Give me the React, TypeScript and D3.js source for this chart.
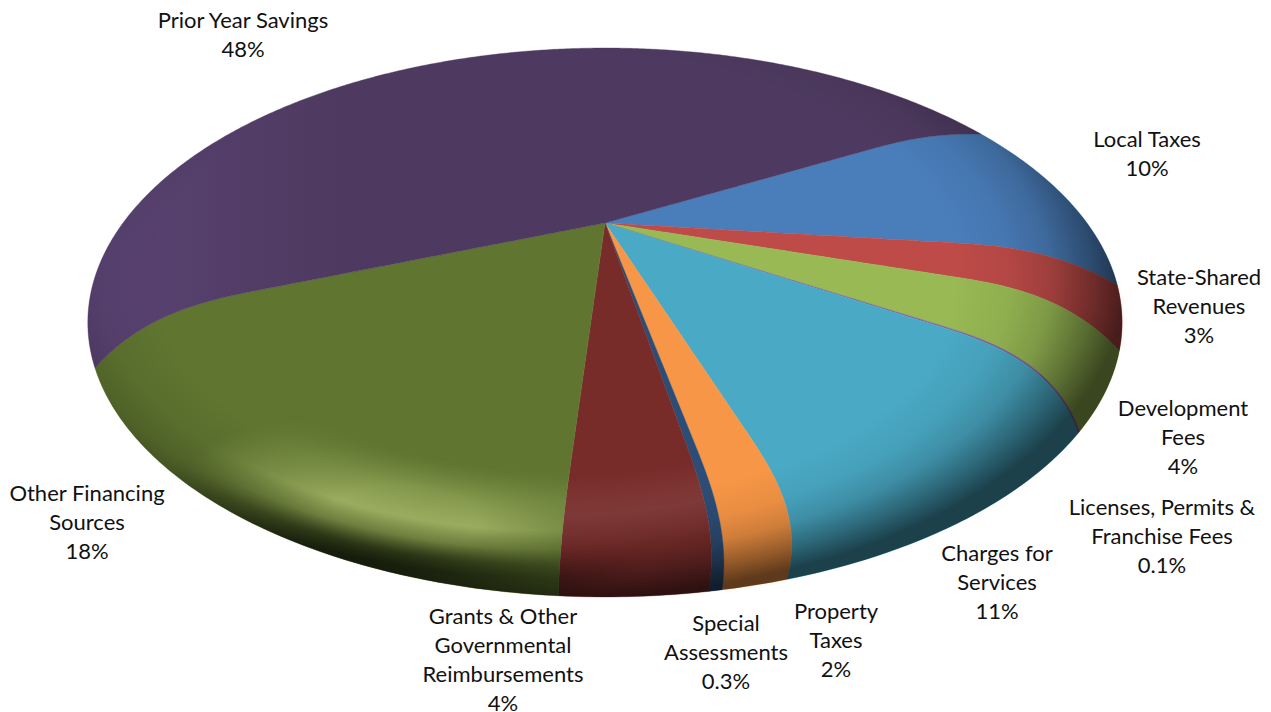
import React from "react";
import * as d3 from "d3";

// Revenue sources, clockwise from Local Taxes
const sourceLabels: string[][] = [
  ["Local Taxes"],
  ["State-Shared", "Revenues"],
  ["Development", "Fees"],
  ["Licenses, Permits &", "Franchise Fees"],
  ["Charges for", "Services"],
  ["Property", "Taxes"],
  ["Special", "Assessments"],
  ["Grants & Other", "Governmental", "Reimbursements"],
  ["Other Financing", "Sources"],
  ["Prior Year Savings"],
];
const sharePercent = [10, 3, 4, 0.1, 11, 2, 0.3, 4, 18, 48];
const sliceColors = [
  "#4a7ebb", "#be4b48", "#98b954", "#8064a2", "#4aaac6",
  "#f79646", "#2c4d75", "#772c2a", "#5f7530", "#4e3a60",
];
const labelCenterX = [1147, 1199, 1183, 1162, 997, 836, 726, 503, 87, 243];
const labelFirstBaseline = [147, 285, 416, 515, 561, 619, 631, 624, 501, 28];

const WIDTH = 1271;
const HEIGHT = 712;

// Perspective of the tilted disc: apex position and projective constants
const APEX_X = 605;
const APEX_Y = 223;
const DEPTH_K = 0.3625;
const SCALE_X = 482;
const SCALE_Y = 238.4;

const START_DEG = 60.7;

// The rolled edge drags slice borders towards the front of the disc
const rimAngle = d3
  .scaleLinear()
  .domain([0, 60.7, 96.6, 107.3, 122, 161.4, 168.6, 169.6, 184, 248.5, 360])
  .range([0, 64.5, 103.8, 116.7, 132, 165.8, 171, 172, 183.5, 240, 360]);

function edgeFactor(r: number) {
  return r <= 0.7 ? 0 : Math.pow((r - 0.7) / 0.3, 2.6);
}

function wrapDeg(deg: number) {
  return ((deg % 360) + 360) % 360;
}

function project(r: number, deg: number): [number, number] {
  const base = wrapDeg(deg);
  const warped = base + (rimAngle(base) - base) * edgeFactor(r);
  const a = (warped * Math.PI) / 180;
  const u = r * Math.sin(a);
  const v = r * Math.cos(a);
  const w = 1 + DEPTH_K * v;
  return [APEX_X + (SCALE_X * u) / w, APEX_Y - (SCALE_Y * v) / w];
}

function rimPoint(deg: number): [number, number] {
  const a = (deg * Math.PI) / 180;
  const w = 1 + DEPTH_K * Math.cos(a);
  return [APEX_X + (SCALE_X * Math.sin(a)) / w, APEX_Y - (SCALE_Y * Math.cos(a)) / w];
}

const pieLayout = d3
  .pie<number>()
  .sort(null)
  .startAngle((START_DEG * Math.PI) / 180)
  .endAngle((START_DEG * Math.PI) / 180 + 2 * Math.PI);

const lineGen = d3.line();

function slicePath(a0: number, a1: number) {
  const d0 = (a0 * 180) / Math.PI;
  const d1 = (a1 * 180) / Math.PI;
  const radii = d3.range(0, 1.0001, 0.01);
  const pts: [number, number][] = [];
  radii.forEach((r) => pts.push(project(r, d0)));
  // rim is walked in warped angle so it stays on the disc outline
  const rimStart = rimAngle(wrapDeg(d0));
  let rimEnd = rimAngle(wrapDeg(d1));
  if (rimEnd < rimStart) rimEnd += 360;
  const steps = Math.max(2, Math.ceil(rimEnd - rimStart) * 2);
  d3.range(steps + 1).forEach((i) => {
    pts.push(rimPoint(rimStart + ((rimEnd - rimStart) * i) / steps));
  });
  radii.slice().reverse().forEach((r) => pts.push(project(r, d1)));
  return lineGen(pts) + "Z";
}

function outlinePath() {
  return lineGen(d3.range(0, 361).map(rimPoint)) + "Z";
}

export default function App() {
  const arcs = pieLayout(sharePercent);
  const grants = arcs[7];
  const other = arcs[8];
  const priorYear = arcs[9];
  const shadeTransform = "translate(555 278) scale(570 320)";
  const glowTransform = "translate(400 520) scale(260 115)";
  return (
    <svg
      width={WIDTH}
      height={HEIGHT}
      style={{ position: "absolute", left: 0, top: 0, background: "#fff" }}
      fontFamily="Lato, 'Open Sans', sans-serif"
    >
      <defs>
        <radialGradient id="rimShade" gradientUnits="userSpaceOnUse" cx={0} cy={0} r={1} gradientTransform={shadeTransform}>
          <stop offset="0.7" stopColor="#000" stopOpacity={0} />
          <stop offset="0.8" stopColor="#000" stopOpacity={0.06} />
          <stop offset="0.87" stopColor="#000" stopOpacity={0.17} />
          <stop offset="0.94" stopColor="#000" stopOpacity={0.4} />
          <stop offset="1" stopColor="#000" stopOpacity={0.62} />
        </radialGradient>
        <radialGradient id="frontBand" gradientUnits="userSpaceOnUse" cx={0} cy={0} r={1} gradientTransform={shadeTransform}>
          <stop offset="0.6" stopColor="#d9eb8f" stopOpacity={0} />
          <stop offset="0.79" stopColor="#d9eb8f" stopOpacity={0.55} />
          <stop offset="0.9" stopColor="#d9eb8f" stopOpacity={0} />
        </radialGradient>
        <radialGradient id="grantsBand" gradientUnits="userSpaceOnUse" cx={0} cy={0} r={1} gradientTransform={shadeTransform}>
          <stop offset="0.62" stopColor="#fff" stopOpacity={0} />
          <stop offset="0.74" stopColor="#fff" stopOpacity={0.07} />
          <stop offset="0.86" stopColor="#fff" stopOpacity={0} />
        </radialGradient>
        <radialGradient id="frontDark" gradientUnits="userSpaceOnUse" cx={0} cy={0} r={1} gradientTransform={shadeTransform}>
          <stop offset="0.85" stopColor="#000" stopOpacity={0} />
          <stop offset="0.94" stopColor="#000" stopOpacity={0.65} />
        </radialGradient>
        <radialGradient id="frontMaskFill" gradientUnits="userSpaceOnUse" cx={0} cy={0} r={1} gradientTransform={glowTransform}>
          <stop offset="0.3" stopColor="#fff" stopOpacity={1} />
          <stop offset="1" stopColor="#fff" stopOpacity={0} />
        </radialGradient>
        <mask id="frontMask" maskUnits="userSpaceOnUse" x={0} y={0} width={WIDTH} height={HEIGHT}>
          <rect width={WIDTH} height={HEIGHT} fill="url(#frontMaskFill)" />
        </mask>
        <linearGradient id="leftLight" gradientUnits="userSpaceOnUse" x1={88} y1={0} x2={340} y2={0}>
          <stop offset="0" stopColor="#9a70d8" stopOpacity={0.16} />
          <stop offset="1" stopColor="#9a70d8" stopOpacity={0} />
        </linearGradient>
        <clipPath id="discClip">
          <path d={outlinePath()} />
        </clipPath>
        <clipPath id="leftLightClip">
          <path d={slicePath(priorYear.startAngle, priorYear.endAngle)} />
        </clipPath>
        <clipPath id="grantsClip">
          <path d={slicePath(grants.startAngle, grants.endAngle)} />
        </clipPath>
        <clipPath id="otherClip">
          <path d={slicePath(other.startAngle, other.endAngle)} />
        </clipPath>
      </defs>

      {arcs.map((arc, i) => (
        <path
          key={i}
          d={slicePath(arc.startAngle, arc.endAngle)}
          fill={sliceColors[i]}
          stroke={sliceColors[i]}
          strokeWidth={0.4}
        />
      ))}

      <g clipPath="url(#discClip)">
        <rect width={WIDTH} height={HEIGHT} fill="url(#leftLight)" clipPath="url(#leftLightClip)" />
        <rect width={WIDTH} height={HEIGHT} fill="url(#grantsBand)" clipPath="url(#grantsClip)" />
        {/* the green glow stays on its own slice */}
        <g clipPath="url(#otherClip)">
          <rect width={WIDTH} height={HEIGHT} fill="url(#frontBand)" mask="url(#frontMask)" />
        </g>
        <rect width={WIDTH} height={HEIGHT} fill="url(#rimShade)" />
        <rect width={WIDTH} height={HEIGHT} fill="url(#frontDark)" mask="url(#frontMask)" />
      </g>

      {sourceLabels.map((lines, i) => (
        <text key={i} textAnchor="middle" fontSize={22} fill="#111">
          {[...lines, `${sharePercent[i]}%`].map((line, j) => (
            <tspan key={j} x={labelCenterX[i]} y={labelFirstBaseline[i] + j * 29.1}>
              {line}
            </tspan>
          ))}
        </text>
      ))}
    </svg>
  );
}
